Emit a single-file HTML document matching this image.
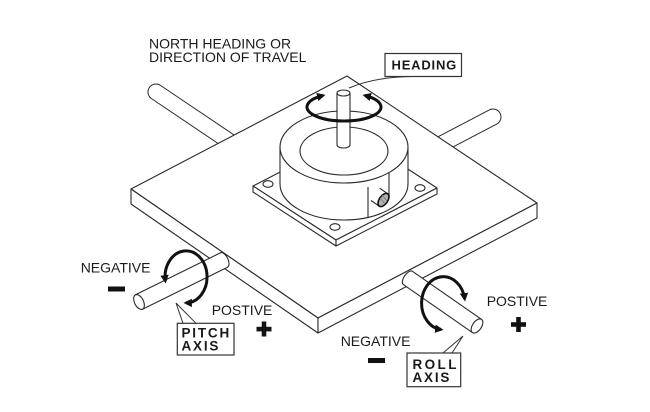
<!DOCTYPE html>
<html>
<head>
<meta charset="utf-8">
<style>
  html,body{margin:0;padding:0;background:#fff;}
  svg{display:block;}
  text{font-family:"Liberation Sans", Arial, sans-serif;fill:#1a1a1a;}
  .b{font-weight:bold;}
</style>
</head>
<body>
<svg width="650" height="412" viewBox="0 0 650 412" xmlns="http://www.w3.org/2000/svg">
  <defs>
    <marker id="ah" viewBox="0 0 10 10" refX="7" refY="5" markerWidth="2.8" markerHeight="2.8" orient="auto-start-reverse" markerUnits="strokeWidth">
      <path d="M0,0 L10,5 L0,10 z" fill="#111"/>
    </marker>
  </defs>
  <rect width="650" height="412" fill="#fff"/>

  <!-- back rods (under plate) -->
  <line x1="156" y1="92" x2="245" y2="152" stroke="#2a2a2a" stroke-width="17" stroke-linecap="round"/>
  <line x1="156" y1="92" x2="245" y2="152" stroke="#fff" stroke-width="15" stroke-linecap="round"/>
  <line x1="493" y1="117" x2="430" y2="150" stroke="#2a2a2a" stroke-width="17" stroke-linecap="round"/>
  <line x1="493" y1="117" x2="430" y2="150" stroke="#fff" stroke-width="15" stroke-linecap="round"/>

  <g stroke="#2a2a2a" stroke-width="1.1" fill="#fff" stroke-linejoin="round">
    <!-- plate -->
    <polygon points="131,189 347,76 537,203 318,318"/>
    <polygon points="131,189 318,318 318,333 131,204"/>
    <polygon points="318,318 537,203 537,218 318,333"/>

    <!-- flange -->
    <polygon points="253,186 354,134 437,188 336,240"/>
    <polygon points="253,186 336,240 336,246 253,192"/>
    <polygon points="336,240 437,188 437,194 336,246"/>
    <ellipse cx="268" cy="184" rx="5" ry="3.3"/>
    <ellipse cx="420" cy="188" rx="5" ry="3.3"/>
    <ellipse cx="335" cy="227" rx="5" ry="3.3"/>

    <!-- cylinder -->
    <path d="M280,147 L280,184 A64 36 0 0 0 408,184 L408,147 Z"/>
    <ellipse cx="344" cy="147" rx="64" ry="36"/>
    <ellipse cx="344" cy="151" rx="44" ry="24"/>
    <line x1="368" y1="187" x2="368" y2="217"/>
    <line x1="389" y1="172" x2="389" y2="196"/>

    <!-- connector -->
    <polygon points="379.6,188.1 387.8,193.8 379.2,206.2 371,200.5" stroke="none"/>
    <line x1="379.6" y1="188.1" x2="387.8" y2="193.8"/>
    <line x1="371" y1="200.5" x2="379.2" y2="206.2"/>
    <ellipse cx="383.5" cy="200" rx="4.2" ry="7.5" transform="rotate(35 383.5 200)" fill="#b0b0b0" stroke="#111" stroke-width="1.6"/>
    <line x1="380" y1="198" x2="385" y2="204" stroke="#777" stroke-width="0.8"/>
    <line x1="382" y1="195" x2="387" y2="201" stroke="#777" stroke-width="0.8"/>

    <!-- shaft -->
    <path d="M337,93 L337,145 A6.5 3 0 0 0 350,145 L350,93 Z"/>
    <ellipse cx="343.5" cy="93" rx="6.5" ry="3"/>

    <!-- front pitch rod -->
    <path d="M135.5,294.8 L220.5,252.8 A4 8 -26.3 0 1 227.5,267.2 L142.5,309.2 Z"/>
    <ellipse cx="139" cy="302" rx="4.5" ry="8" transform="rotate(-26.3 139 302)"/>

    <!-- front roll rod -->
    <path d="M412.6,271.4 L481.6,319.4 L472.4,332.6 L403.4,284.6 A4 8 34.8 0 1 412.6,271.4 Z"/>
    <ellipse cx="477" cy="326" rx="4.5" ry="8" transform="rotate(34.8 477 326)"/>
  </g>

  <!-- rotation arrows -->
  <g fill="none" stroke="#111" stroke-width="3">
    <path d="M323,95.5 A37 14 0 1 0 365,95.5" marker-start="url(#ah)" marker-end="url(#ah)"/>
    <path d="M165.3,281 A21 26 0 1 1 186,302.9" marker-start="url(#ah)" marker-end="url(#ah)"/>
    <path d="M464.7,299 A21.7 26.5 0 1 0 441,329.5" marker-start="url(#ah)" marker-end="url(#ah)"/>
  </g>

  <!-- leaders -->
  <g fill="none" stroke="#333" stroke-width="1">
    <path d="M349,88 Q375,77 412,76.5"/>
    <polyline points="183,323.3 176,303 196,323.3"/>
    <polyline points="443,353 463,336 452,353"/>
  </g>

  <!-- boxes -->
  <g fill="#fff" stroke="#333" stroke-width="1.2">
    <rect x="385" y="53.5" width="76.5" height="23"/>
    <rect x="177.3" y="323.3" width="56.7" height="31.7"/>
    <rect x="407" y="353" width="53.7" height="33.7"/>
  </g>

  <!-- texts -->
  <text x="149" y="48.5" font-size="14">NORTH HEADING OR</text>
  <text x="149" y="61.8" font-size="14">DIRECTION OF TRAVEL</text>
  <text x="391.5" y="69.5" font-size="13" class="b" letter-spacing="0.8">HEADING</text>

  <text x="80.7" y="272.7" font-size="14">NEGATIVE</text>
  <text x="211.7" y="315" font-size="14">POSTIVE</text>
  <text x="181.5" y="337.3" font-size="13.5" class="b" letter-spacing="1.8">PITCH</text>
  <text x="181.5" y="350.7" font-size="13.5" class="b" letter-spacing="1.8">AXIS</text>

  <text x="486.7" y="306" font-size="14">POSTIVE</text>
  <text x="340.7" y="346" font-size="14">NEGATIVE</text>
  <text x="412.5" y="369" font-size="13.5" class="b" letter-spacing="2.4">ROLL</text>
  <text x="412.5" y="382" font-size="13.5" class="b" letter-spacing="1.8">AXIS</text>

  <!-- plus / minus signs -->
  <g fill="#111">
    <rect x="108" y="286.5" width="17" height="5"/>
    <rect x="256.5" y="326.8" width="15" height="4.6"/>
    <rect x="261.7" y="321.5" width="4.6" height="15"/>
    <rect x="368" y="358" width="17" height="5"/>
    <rect x="511" y="322.2" width="15" height="4.6"/>
    <rect x="516.2" y="317" width="4.6" height="15"/>
  </g>
</svg>
</body>
</html>
